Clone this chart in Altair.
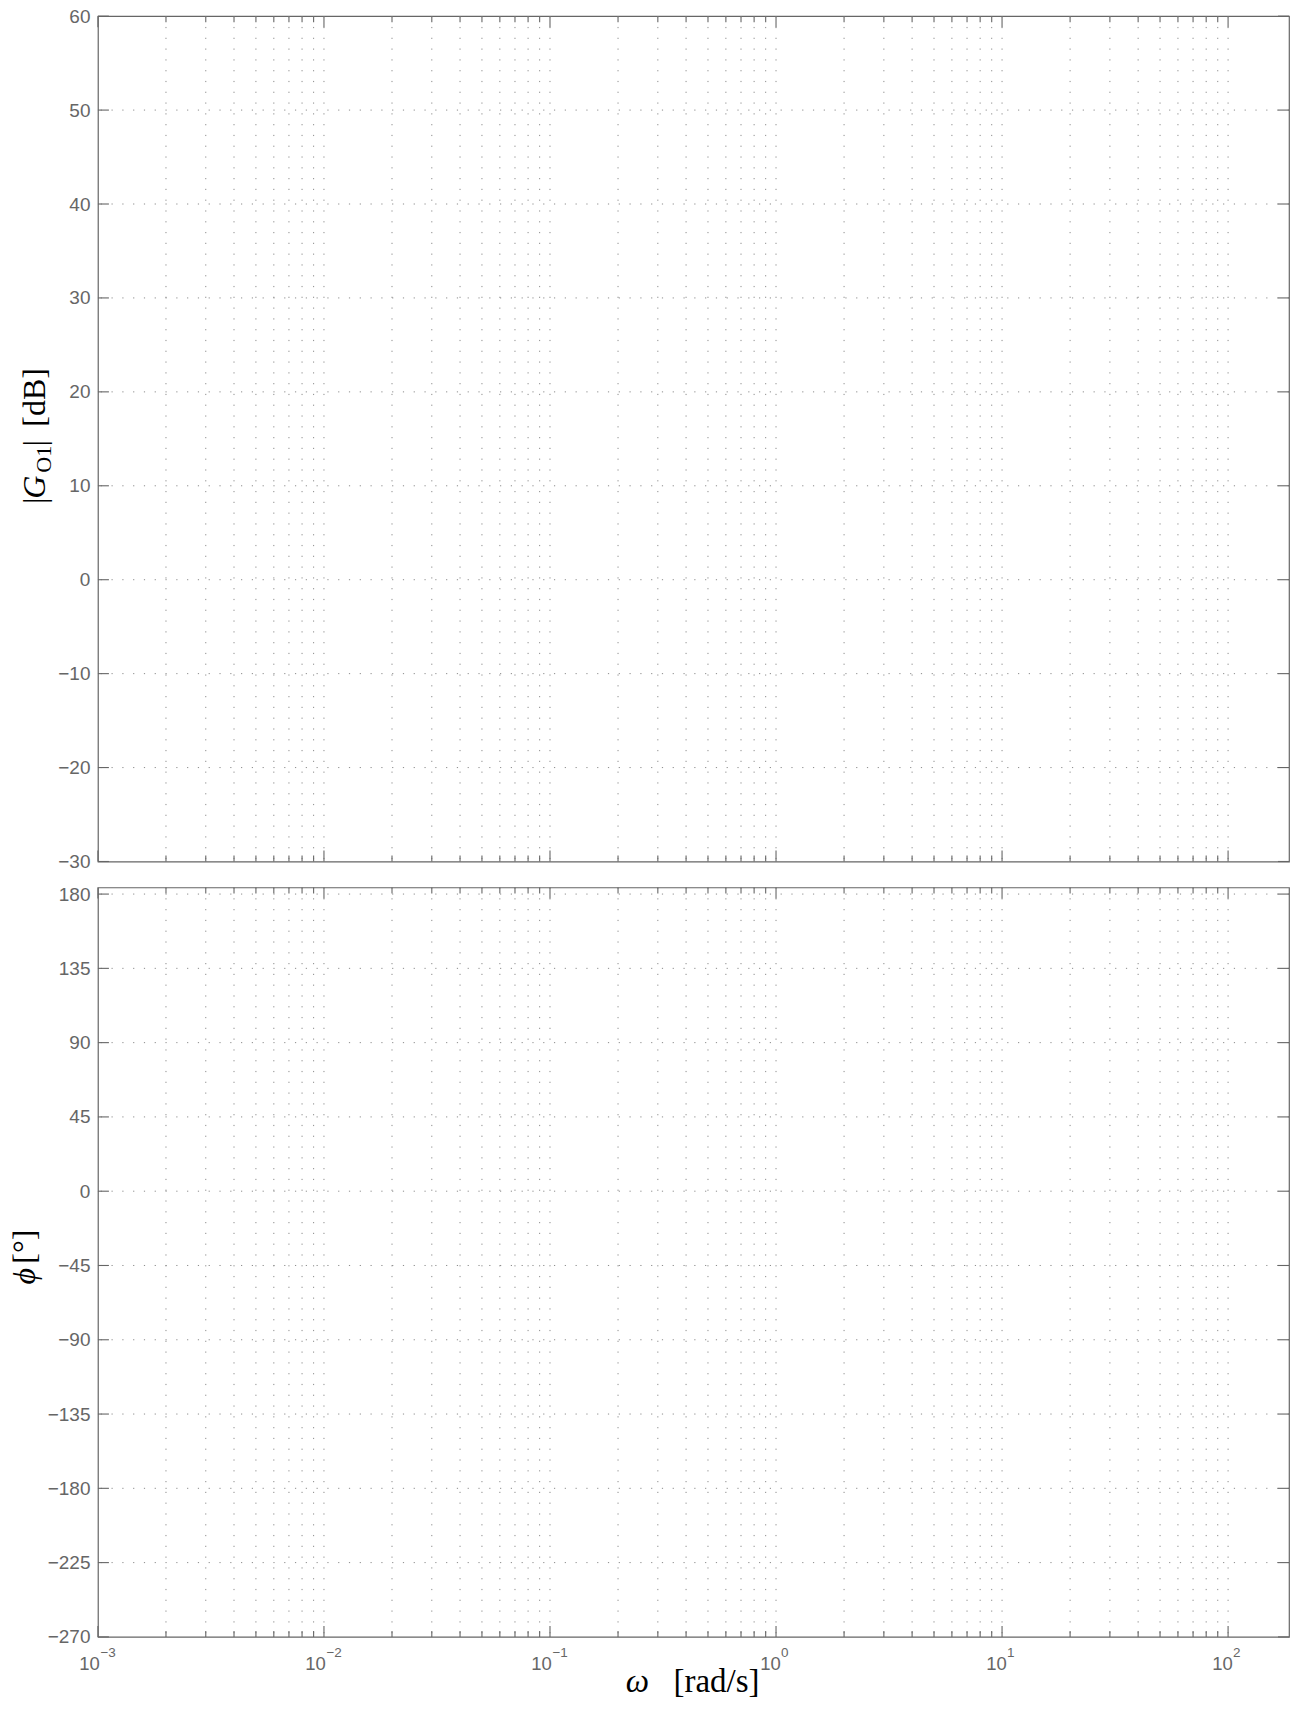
import altair as alt
import pandas as pd

# ---- data (tick positions / domains) ----
decades = [-3, -2, -1, 0, 1, 2]
exp_labels = ["\u22123", "\u22122", "\u22121", "0", "1", "2"]
minor_mult = [2, 3, 4, 5, 6, 7, 8, 9]
mag_ticks = [-30, -20, -10, 0, 10, 20, 30, 40, 50, 60]
phase_ticks = [-270, -225, -180, -135, -90, -45, 0, 45, 90, 135, 180]
x_domain = [0.001, 186]
mag_domain = [-30, 60]
phase_domain = [-270, 184]

W = 1192
H_TOP = 846
H_BOT = 750

FRAME = "#666666"
LABEL = "#666666"
GRID = "#8c8c8c"
SANS = "Liberation Sans"
SERIF = "Liberation Serif"

major_df = pd.DataFrame({
    "f": [10.0 ** d for d in decades],
    "e": exp_labels,
    "neg": [d < 0 for d in decades],
})
minor_df = pd.DataFrame({"f": [m * 10.0 ** d for d in decades[:-1] for m in minor_mult]})
grid_df = pd.DataFrame({"f": list(minor_df["f"]) + list(major_df["f"][1:])})

xs = alt.Scale(type="log", domain=x_domain, nice=False)
X = alt.X("f:Q", scale=xs, axis=None)


def piece(txt, x, y, size, italic=False, angle=0, align="center"):
    return alt.Chart(alt.InlineData(values=[{"a": 0}])).mark_text(
        text=txt, angle=angle, align=align, baseline="alphabetic",
        fontSize=size, font=SERIF, fontStyle="italic" if italic else "normal",
        color="black",
    ).encode(x=alt.value(x), y=alt.value(y))


def panel(H, ydom, yticks, extra):
    ys = alt.Scale(domain=ydom, nice=False, zero=False)
    yaxis = alt.Axis(
        values=yticks, ticks=False, domain=False, grid=False,
        labelFontSize=19, labelFont=SANS, labelColor=LABEL, labelPadding=8,
        title=None, labelExpr="replace(datum.label, '-', '\u2212')",
    )
    Y = alt.Y("v:Q", scale=ys, axis=yaxis)
    ydf = pd.DataFrame({"v": yticks})
    hgrid_df = ydf[(ydf["v"] > ydom[0]) & (ydf["v"] < ydom[1])]
    dots = dict(color=GRID, strokeWidth=1, strokeDash=[1.2, 9.6])
    tk = dict(color=FRAME, strokeWidth=1.1)
    layers = [
        alt.Chart(grid_df).mark_rule(**dots).encode(x=X),
        alt.Chart(hgrid_df).mark_rule(**dots).encode(y=Y),
        # x major ticks (inward) bottom / top
        alt.Chart(major_df).mark_rule(**tk).encode(x=X, y=alt.value(H), y2=alt.value(H - 11)),
        alt.Chart(major_df).mark_rule(**tk).encode(x=X, y=alt.value(0), y2=alt.value(11)),
        # x minor ticks
        alt.Chart(minor_df).mark_rule(**tk).encode(x=X, y=alt.value(H), y2=alt.value(H - 6)),
        alt.Chart(minor_df).mark_rule(**tk).encode(x=X, y=alt.value(0), y2=alt.value(6)),
        # y ticks left / right
        alt.Chart(ydf).mark_rule(**tk).encode(y=Y, x=alt.value(0), x2=alt.value(11)),
        alt.Chart(ydf).mark_rule(**tk).encode(y=Y, x=alt.value(W - 11), x2=alt.value(W)),
    ]
    layers += extra
    return alt.layer(*layers).properties(width=W, height=H)


top_titles = [
    piece("|", -53, 485, 32, angle=270),
    piece("G", -53, 471.5, 32, italic=True, angle=270),
    piece("O1", -47, 443.5, 22, angle=270),
    piece("|", -53, 427.5, 32, angle=270),
    piece("[dB]", -53, 381.5, 32, angle=270),
]

x_labels = []
for neg, dx10, dxe in [(True, 1.8, 2.5), (False, 4.7, 5.0)]:
    flt = "datum.neg" if neg else "!datum.neg"
    x_labels.append(
        alt.Chart(major_df).transform_filter(flt).mark_text(
            align="right", baseline="middle", dx=dx10, fontSize=18.5, font=SANS, color=LABEL
        ).encode(x=X, y=alt.value(H_BOT + 27.5), text=alt.value("10"))
    )
    x_labels.append(
        alt.Chart(major_df).transform_filter(flt).mark_text(
            align="left", baseline="middle", dx=dxe, fontSize=13.5, font=SANS, color=LABEL
        ).encode(x=X, y=alt.value(H_BOT + 16.5), text="e:N")
    )

bot_titles = [
    piece("\u03d5", -63, 389, 32, italic=True, angle=270),
    piece("[\u00b0]", -63, 359.5, 32, angle=270),
    piece("\u03c9", 540, H_BOT + 55, 33, italic=True),
    piece("[rad/s]", 619, H_BOT + 55, 33),
]

top = panel(H_TOP, mag_domain, mag_ticks, top_titles)
bottom = panel(H_BOT, phase_domain, phase_ticks, x_labels + bot_titles)

chart = alt.vconcat(top, bottom, spacing=26, bounds="flush").properties(
    padding={"left": 0, "top": -2.5, "right": 0, "bottom": -2}
).configure_view(stroke=FRAME, strokeWidth=1.2)

chart.save("out.html", embed_options={"renderer": "svg", "actions": False})
